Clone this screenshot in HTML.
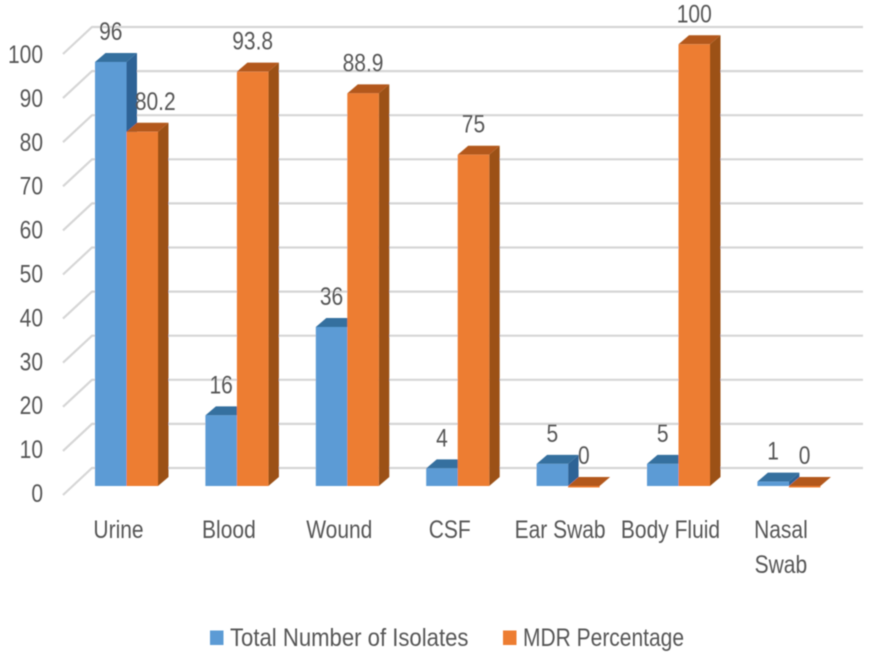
<!DOCTYPE html>
<html lang="en">
<head>
<meta charset="utf-8">
<title>Isolates and MDR percentage by specimen</title>
<style>
html,body{margin:0;padding:0;background:#fff;width:874px;height:660px;overflow:hidden}
svg{display:block}
text{font-family:"Liberation Sans",sans-serif;fill:#575757}
</style>
</head>
<body>
<svg id="chart" width="874" height="660" viewBox="0 0 874 660" xmlns="http://www.w3.org/2000/svg">
  <defs>
    <filter id="soft" x="-5%" y="-5%" width="110%" height="110%"><feGaussianBlur stdDeviation="0.55"/></filter>
  </defs>
  <g id="plot" filter="url(#soft)"></g>
</svg>
<script>
const categories = ["Urine", "Blood", "Wound", "CSF", "Ear Swab", "Body Fluid", "Nasal Swab"];
const isolates = [96, 16, 36, 4, 5, 5, 1];
const mdr = [80.2, 93.8, 88.9, 75, 0, 100, 0];
const ticks = [0, 10, 20, 30, 40, 50, 60, 70, 80, 90, 100];
const seriesNames = ["Total Number of Isolates", "MDR Percentage"];

const NS = "http://www.w3.org/2000/svg";
const root = document.getElementById("plot");
const baseY = 486, unit = 4.417, depthX = 10.5, depthY = 9;
const firstX = 95, step = 110.4, barW = 31.5;
const wallX = 63, backX = 92, backY = 468, backUnit = 4.41, rightX = 863;

function yFront(v) { return baseY - v * unit; }
function xBar(i, s) { return firstX + i * step + s * barW; }

function make(tag, attrs, parent) {
  const el = document.createElementNS(NS, tag);
  for (const k in attrs) el.setAttribute(k, attrs[k]);
  (parent || root).appendChild(el);
  return el;
}
function label(str, x, y, size, anchor, sx, parent) {
  const t = make("text", {
    transform: "translate(" + x + " " + y + ") scale(" + sx + " 1)",
    "font-size": size,
    "text-anchor": anchor
  }, parent);
  t.textContent = str;
  return t;
}

/* gridlines and side wall */
ticks.forEach(function (v) {
  const g = make("g", {});
  
  
  const y = backY - v * backUnit;
  make("polyline", {
    points: wallX + "," + (y + 27) + " " + backX + "," + y + " " + rightX + "," + y,
    fill: "none", stroke: "#d6d6d6", "stroke-width": 2.2
  }, g);
});

/* tick labels */
ticks.forEach(function (v) {
  const t = label(String(v), 43, 502 - v * 4.39, 25, "end", 0.84);
  
  
});

/* one 3D column */
function bar(v, i, s, front, side, top) {
  const x = xBar(i, s), y = yFront(v), w = barW;
  const g = make("g", {});
  
  
  make("polygon", { fill: side, points:
    (x + w) + "," + y + " " + (x + w + depthX) + "," + (y - depthY) + " " +
    (x + w + depthX) + "," + (baseY - depthY) + " " + (x + w) + "," + baseY }, g);
  make("polygon", { fill: top, points:
    x + "," + y + " " + (x + depthX) + "," + (y - depthY) + " " +
    (x + w + depthX) + "," + (y - depthY) + " " + (x + w) + "," + y }, g);
  make("rect", { fill: front, x: x, y: y, width: w, height: Math.max(baseY - y, 1.5) }, g);
}

categories.forEach(function (c, i) {
  bar(isolates[i], i, 0, "#5b9bd5", "#2f6496", "#35709f");
  bar(mdr[i], i, 1, "#ed7d31", "#9c5118", "#b3591a");
});

/* data labels */
categories.forEach(function (c, i) {
  const a = label(String(isolates[i]), xBar(i, 0) + barW / 2, yFront(isolates[i]) - depthY - 13, 25, "middle", 0.84);
  
  
  const shift = (mdr[i] > 0 && mdr[i] < isolates[i]) ? 13 : 0;
  const b = label(String(mdr[i]), xBar(i, 1) + barW / 2 + shift, yFront(mdr[i]) - depthY - 13, 25, "middle", 0.84);
  
  
});

/* category labels */
categories.forEach(function (c, i) {
  const cx = xBar(i, 1) - 8;
  const words = c === "Nasal Swab" ? c.split(" ") : [c];
  words.forEach(function (w, n) {
    const t = label(w, cx, 538 + n * 35, 25, "middle", 0.84);
    
    
  });
});

/* legend */
const legend = make("g", {});


const legendSwatchX = [210, 503];
const legendColors = ["#5b9bd5", "#ed7d31"];
const legendScale = [0.885, 0.84];
seriesNames.forEach(function (n, i) {
  const e = make("g", {}, legend);
  
  
  make("rect", { x: legendSwatchX[i], y: 630.5, width: 13.5, height: 14.5, fill: legendColors[i] }, e);
  label(n, legendSwatchX[i] + 20, 646, 25, "start", legendScale[i], e);
});
</script>
</body>
</html>
